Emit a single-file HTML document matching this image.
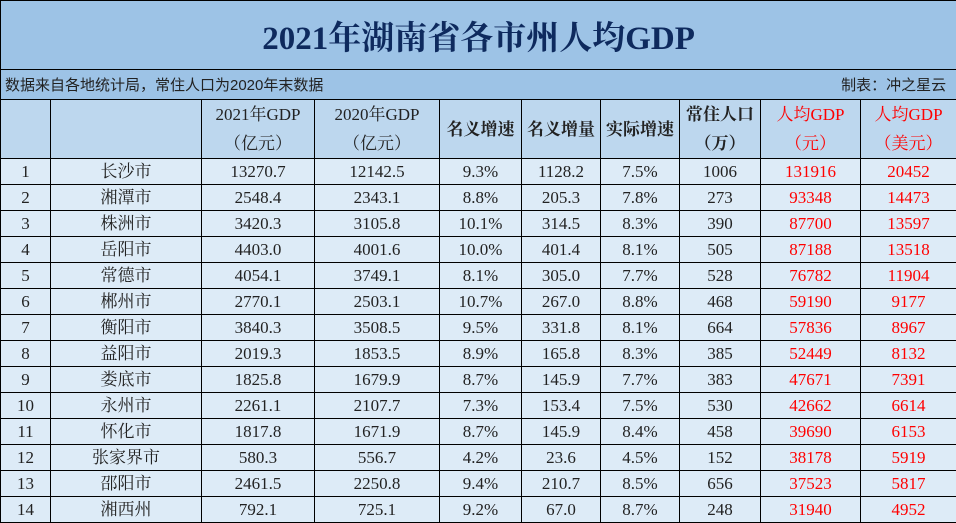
<!DOCTYPE html>
<html><head><meta charset="utf-8"><style>
body{margin:0;width:956px;height:523px;background:#fff;overflow:hidden;font-family:"Liberation Serif","Noto Serif CJK SC",serif;}
table{border-collapse:collapse;table-layout:fixed;position:absolute;left:0;top:0;width:956px;}
td{border:1px solid #000;padding:0;text-align:center;vertical-align:middle;font-size:17px;color:#222;white-space:nowrap;overflow:hidden;}
tr.d td{height:25px;background:#ddebf7;line-height:25px;}
tr.h td{height:56px;background:#bdd7ee;line-height:29px;}
.r{color:#f00 !important;}
.b{font-weight:bold;}
.t{height:68px;background:#9dc3e6;font-size:33px;font-weight:bold;color:#0e2a5e;}
.s{height:29px;background:#9dc3e6;font-family:"Liberation Sans","Noto Sans CJK SC",sans-serif;font-size:15px;text-align:left;position:relative;}
</style></head><body>
<table>
<colgroup><col style="width:50px"><col style="width:151px"><col style="width:113px"><col style="width:125px"><col style="width:82px"><col style="width:79px"><col style="width:79px"><col style="width:81px"><col style="width:100px"><col style="width:96px"></colgroup>
<tr><td colspan="10" class="t">2021年湖南省各市州人均GDP</td></tr>
<tr><td colspan="10" class="s"><span style="position:absolute;left:4px;top:4px;">数据来自各地统计局，常住人口为2020年末数据</span><span style="position:absolute;right:10px;top:4px;">制表：冲之星云</span></td></tr>
<tr class="h"><td></td><td></td><td>2021年GDP<br>（亿元）</td><td>2020年GDP<br>（亿元）</td><td class="b">名义增速</td><td class="b">名义增量</td><td class="b">实际增速</td><td class="b">常住人口<br>（万）</td><td class="r">人均GDP<br>（元）</td><td class="r">人均GDP<br>（美元）</td></tr>
<tr class="d"><td>1</td><td>长沙市</td><td>13270.7</td><td>12142.5</td><td>9.3%</td><td>1128.2</td><td>7.5%</td><td>1006</td><td class="r">131916</td><td class="r">20452</td></tr>
<tr class="d"><td>2</td><td>湘潭市</td><td>2548.4</td><td>2343.1</td><td>8.8%</td><td>205.3</td><td>7.8%</td><td>273</td><td class="r">93348</td><td class="r">14473</td></tr>
<tr class="d"><td>3</td><td>株洲市</td><td>3420.3</td><td>3105.8</td><td>10.1%</td><td>314.5</td><td>8.3%</td><td>390</td><td class="r">87700</td><td class="r">13597</td></tr>
<tr class="d"><td>4</td><td>岳阳市</td><td>4403.0</td><td>4001.6</td><td>10.0%</td><td>401.4</td><td>8.1%</td><td>505</td><td class="r">87188</td><td class="r">13518</td></tr>
<tr class="d"><td>5</td><td>常德市</td><td>4054.1</td><td>3749.1</td><td>8.1%</td><td>305.0</td><td>7.7%</td><td>528</td><td class="r">76782</td><td class="r">11904</td></tr>
<tr class="d"><td>6</td><td>郴州市</td><td>2770.1</td><td>2503.1</td><td>10.7%</td><td>267.0</td><td>8.8%</td><td>468</td><td class="r">59190</td><td class="r">9177</td></tr>
<tr class="d"><td>7</td><td>衡阳市</td><td>3840.3</td><td>3508.5</td><td>9.5%</td><td>331.8</td><td>8.1%</td><td>664</td><td class="r">57836</td><td class="r">8967</td></tr>
<tr class="d"><td>8</td><td>益阳市</td><td>2019.3</td><td>1853.5</td><td>8.9%</td><td>165.8</td><td>8.3%</td><td>385</td><td class="r">52449</td><td class="r">8132</td></tr>
<tr class="d"><td>9</td><td>娄底市</td><td>1825.8</td><td>1679.9</td><td>8.7%</td><td>145.9</td><td>7.7%</td><td>383</td><td class="r">47671</td><td class="r">7391</td></tr>
<tr class="d"><td>10</td><td>永州市</td><td>2261.1</td><td>2107.7</td><td>7.3%</td><td>153.4</td><td>7.5%</td><td>530</td><td class="r">42662</td><td class="r">6614</td></tr>
<tr class="d"><td>11</td><td>怀化市</td><td>1817.8</td><td>1671.9</td><td>8.7%</td><td>145.9</td><td>8.4%</td><td>458</td><td class="r">39690</td><td class="r">6153</td></tr>
<tr class="d"><td>12</td><td>张家界市</td><td>580.3</td><td>556.7</td><td>4.2%</td><td>23.6</td><td>4.5%</td><td>152</td><td class="r">38178</td><td class="r">5919</td></tr>
<tr class="d"><td>13</td><td>邵阳市</td><td>2461.5</td><td>2250.8</td><td>9.4%</td><td>210.7</td><td>8.5%</td><td>656</td><td class="r">37523</td><td class="r">5817</td></tr>
<tr class="d"><td>14</td><td>湘西州</td><td>792.1</td><td>725.1</td><td>9.2%</td><td>67.0</td><td>8.7%</td><td>248</td><td class="r">31940</td><td class="r">4952</td></tr>
</table>
</body></html>
